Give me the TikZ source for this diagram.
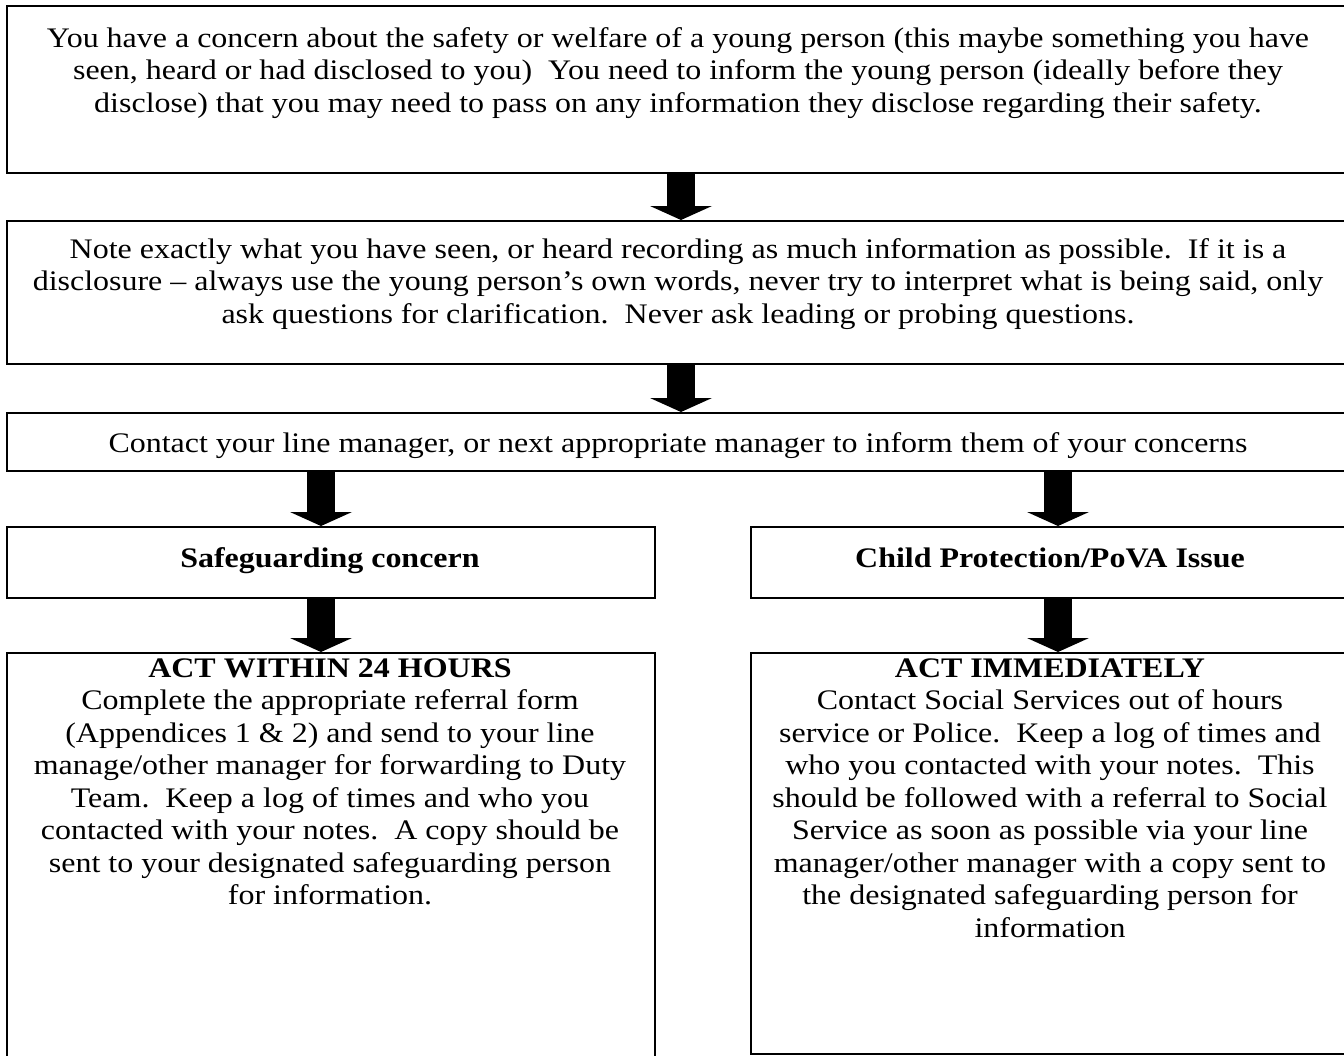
\documentclass[tikz,border=0pt]{standalone}
\usepackage{fontspec}
\setmainfont{Liberation Serif}[FakeStretch=1.13]
\usetikzlibrary{arrows.meta}
\newcommand{\fls}{\rule{0pt}{22pt}}
\begin{document}
\begin{tikzpicture}[x=1pt,y=-1pt,
  box/.style={draw, line width=1.6pt, inner sep=0pt, anchor=north west},
  txt/.style={align=center, inner sep=0pt, anchor=north, font=\fontsize{28.3}{32.5}\selectfont},
  bigarrow/.style={line width=28pt, -{Triangle[width=62pt,length=14pt,line width=0pt]}}]
\useasboundingbox[fill=white] (0,0) rectangle (1344,1055);
% boxes
\node[box, minimum width=1344pt, minimum height=167pt] (b1) at (6,5) {};
\node[box, minimum width=1344pt, minimum height=143pt] (b2) at (6,220) {};
\node[box, minimum width=1344pt, minimum height=58pt] (b3) at (6,412) {};
\node[box, minimum width=648pt, minimum height=71pt] (b4l) at (6,526) {};
\node[box, minimum width=600pt, minimum height=71pt] (b4r) at (750,526) {};
\node[box, minimum width=648pt, minimum height=410pt] (b5l) at (6,652) {};
\node[box, minimum width=600pt, minimum height=401pt] (b5r) at (750,652) {};
% texts
\node[txt] (t1) at (678,25) {\fls You have a concern about the safety or welfare of a young person (this maybe something you have\\
seen, heard or had disclosed to you)\ \ You need to inform the young person (ideally before they\\
disclose) that you may need to pass on any information they disclose regarding their safety.};
\node[txt] (t2) at (678,236) {\fls Note exactly what you have seen, or heard recording as much information as possible.\ \ If it is a\\
disclosure – always use the young person’s own words, never try to interpret what is being said, only\\
ask questions for clarification.\ \ Never ask leading or probing questions.};
\node[txt] (t3) at (678,430) {\fls Contact your line manager, or next appropriate manager to inform them of your concerns};
\node[txt] (t4l) at (330,545) {\fls\textbf{Safeguarding concern}};
\node[txt] (t4r) at (1050,545) {\fls\textbf{Child Protection/PoVA Issue}};
\node[txt] (t5l) at (330,655) {\fls\textbf{ACT WITHIN 24 HOURS}\\
Complete the appropriate referral form\\
(Appendices 1 \& 2) and send to your line\\
manage/other manager for forwarding to Duty\\
Team.\ \ Keep a log of times and who you\\
contacted with your notes.\ \ A copy should be\\
sent to your designated safeguarding person\\
for information.};
\node[txt] (t5r) at (1050,655) {\fls\textbf{ACT IMMEDIATELY}\\
Contact Social Services out of hours\\
service or Police.\ \ Keep a log of times and\\
who you contacted with your notes.\ \ This\\
should be followed with a referral to Social\\
Service as soon as possible via your line\\
manager/other manager with a copy sent to\\
the designated safeguarding person for\\
information};
% arrows
\coordinate (ax) at (681,0);
\coordinate (lx) at (321,0);
\coordinate (rx) at (1058,0);
\draw[bigarrow] (b1.south -| ax) -- (b2.north -| ax);
\draw[bigarrow] (b2.south -| ax) -- (b3.north -| ax);
\draw[bigarrow] (b3.south -| lx) -- (b4l.north -| lx);
\draw[bigarrow] (b3.south -| rx) -- (b4r.north -| rx);
\draw[bigarrow] (b4l.south -| lx) -- (b5l.north -| lx);
\draw[bigarrow] (b4r.south -| rx) -- (b5r.north -| rx);
\end{tikzpicture}
\end{document}
